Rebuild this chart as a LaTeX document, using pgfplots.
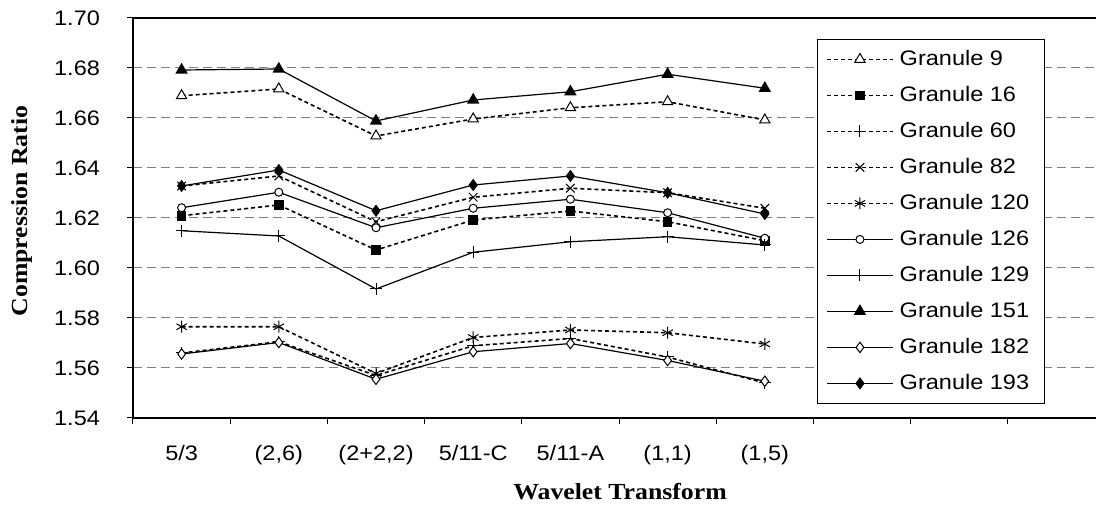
\documentclass[border=0pt]{standalone}
\usepackage{fontspec}
\setmainfont[FakeStretch=1.12]{Liberation Sans}
\newfontfamily\tnr[FakeStretch=1.12]{Liberation Serif}
\usepackage{pgfplots}
\usepackage{pgfplotstable}
\pgfplotsset{compat=1.18}
\usetikzlibrary{calc}

\pgfplotstableread{
x g9 g16 g60 g82 g120 g126 g129 g151 g182 g193
0 1.6689 1.6209 1.5660 1.6328 1.5765 1.6241 1.6149 1.6792 1.5656 1.6328
1 1.6716 1.6252 1.5705 1.6368 1.5765 1.6303 1.6128 1.6796 1.5702 1.6392
2 1.6528 1.6072 1.5570 1.6185 1.5578 1.6161 1.5916 1.6588 1.5555 1.6229
3 1.6596 1.6192 1.5689 1.6283 1.5722 1.6239 1.6063 1.6672 1.5665 1.6332
4 1.6641 1.6228 1.5718 1.6319 1.5752 1.6275 1.6105 1.6705 1.5698 1.6368
5 1.6665 1.6185 1.5644 1.6301 1.5741 1.6221 1.6125 1.6775 1.5630 1.6301
6 1.6592 1.6109 1.5540 1.6239 1.5696 1.6119 1.6092 1.6719 1.5547 1.6216
}\data

\pgfplotsset{
  dotline/.style={black, line width=0.8pt, dash pattern=on 2pt off 1.5pt},
  solline/.style={black, line width=0.6pt},
}

\begin{document}
\begin{tikzpicture}
\begin{axis}[
  scale only axis, width=481.5pt, height=200pt,
  xmin=-0.5, xmax=9.407, ymin=1.54, ymax=1.70,
  axis x line=bottom, axis y line=left,
  axis line style={-, black, line width=0.7pt},
  ytick={1.54,1.56,1.58,1.60,1.62,1.64,1.66,1.68,1.70},
  minor ytick={1.54,1.56,1.58,1.60,1.62,1.64,1.66,1.68,1.70},
  yticklabel style={/pgf/number format/fixed, /pgf/number format/fixed zerofill, /pgf/number format/precision=2, xshift=-13pt},
  /pgf/number format/assume math mode=true,
  ymajorgrids, yminorgrids=false,
  y grid style={gray, dash pattern=on 4.5pt off 2.5pt, line width=0.5pt},
  tick align=outside, major tick length=0pt, minor tick length=2.8pt,
  tick style={black, line width=0.5pt},
  xtick={0,1,2,3,4,5,6},
  xticklabels={5/3,(2,6),(2+2,2),5/11-C,5/11-A,(1,1),(1,5)},
  minor xtick={-0.5,0.5,1.5,2.5,3.5,4.5,5.5,6.5,7.5,8.5},
  xticklabel style={yshift=-10pt},
  ticklabel style={font=\fontsize{10.5}{12}\selectfont},
  xlabel={\tnr\bfseries Wavelet Transform},
  xlabel style={at={(axis description cs:0.5057,0)}, anchor=north, yshift=-29pt, font=\fontsize{11.5}{13}\selectfont},
  ylabel={\tnr\bfseries Compression Ratio},
  ylabel style={at={(axis description cs:0,0.5175)}, anchor=center, yshift=55.5pt, font=\fontsize{11.5}{13}\selectfont},
  legend style={at={(axis description cs:0.710,0.9475)}, anchor=north west,
    draw=black, fill=white, font=\fontsize{10.5}{12}\selectfont,
    inner xsep=4.5pt, inner ysep=1pt, row sep=0pt,
    nodes={text height=8pt, text depth=2pt, inner ysep=4pt, inner xsep=3pt}},
  legend cell align=left,
  legend image code/.code={\draw[mark repeat=2,mark phase=2] plot coordinates {(0cm,0cm) (0.58cm,0cm) (1.16cm,0cm)};},
]
\addplot[dotline, mark=triangle*, mark size=3pt, mark options={solid, fill=white, line width=0.5pt}] table[x=x,y=g9]{\data};
\addlegendentry{Granule 9}
\addplot[dotline, mark=square*, mark size=2pt, mark options={solid, fill=black}] table[x=x,y=g16]{\data};
\addlegendentry{Granule 16}
\addplot[dotline, mark=+, mark size=3pt, mark options={solid, line width=0.5pt}] table[x=x,y=g60]{\data};
\addlegendentry{Granule 60}
\addplot[dotline, mark=x, mark size=3pt, mark options={solid, line width=0.5pt}] table[x=x,y=g82]{\data};
\addlegendentry{Granule 82}
\addplot[dotline, mark=asterisk, mark size=3pt, mark options={solid, line width=0.5pt}] table[x=x,y=g120]{\data};
\addlegendentry{Granule 120}
\addplot[solline, mark=*, mark size=2pt, mark options={solid, fill=white, line width=0.5pt}] table[x=x,y=g126]{\data};
\addlegendentry{Granule 126}
\addplot[solline, mark=+, mark size=3pt, mark options={solid, line width=0.5pt}] table[x=x,y=g129]{\data};
\addlegendentry{Granule 129}
\addplot[solline, mark=triangle*, mark size=3pt, mark options={solid, fill=black}] table[x=x,y=g151]{\data};
\addlegendentry{Granule 151}
\addplot[solline, mark=diamond*, mark size=2.6pt, mark options={solid, fill=white, line width=0.5pt}] table[x=x,y=g182]{\data};
\addlegendentry{Granule 182}
\addplot[solline, mark=diamond*, mark size=2.6pt, mark options={solid, fill=black}] table[x=x,y=g193]{\data};
\addlegendentry{Granule 193}
\draw[black, line width=0.7pt] (rel axis cs:0,1) -- (rel axis cs:1,1);
\end{axis}
\pgfresetboundingbox
\path[use as bounding box] ($(current axis.south west)+(-66.5pt,-45pt)$) rectangle ($(current axis.north east)+(0pt,9pt)$);
\end{tikzpicture}
\end{document}
